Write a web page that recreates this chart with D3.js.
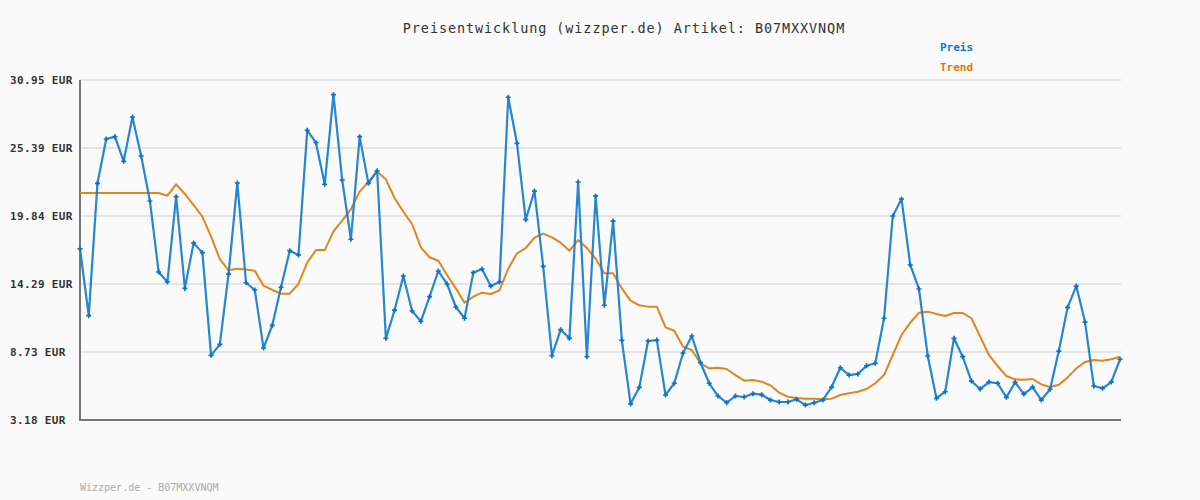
<!DOCTYPE html>
<html><head><meta charset="utf-8">
<script src="https://cdn.jsdelivr.net/npm/d3@7"></script>
<style>
html,body{margin:0;padding:0;background:#fafafa;}
svg{display:block;}
</style></head>
<body>
<svg id="chart" width="1200" height="500"></svg>
<script>
const title = "Preisentwicklung (wizzper.de) Artikel: B07MXXVNQM";
const footer = "Wizzper.de - B07MXXVNQM";
const seriesNames = ["Preis", "Trend"];
const yTicks = [3.18, 8.73, 14.29, 19.84, 25.39, 30.95];
const yTickLabels = ["3.18 EUR", "8.73 EUR", "14.29 EUR", "19.84 EUR", "25.39 EUR", "30.95 EUR"];

const preis = [
  17.15, 11.70, 22.51, 26.13, 26.32, 24.31, 27.93, 24.74, 21.07, 15.27,
  14.45, 21.42, 13.93, 17.64, 16.85, 8.46, 9.36, 15.10, 22.54, 14.39,
  13.80, 9.06, 10.91, 14.02, 17.01, 16.66, 26.84, 25.83, 22.43, 29.75,
  22.78, 17.94, 26.32, 22.51, 23.54, 9.85, 12.16, 14.94, 12.08, 11.24,
  13.25, 15.35, 14.29, 12.41, 11.49, 15.21, 15.51, 14.12, 14.45, 29.54,
  25.78, 19.54, 21.88, 15.73, 8.43, 10.56, 9.85, 22.62, 8.35, 21.48,
  12.55, 19.43, 9.69, 4.49, 5.85, 9.63, 9.71, 5.22, 6.18, 8.65,
  10.04, 7.86, 6.18, 5.14, 4.59, 5.14, 5.06, 5.33, 5.25, 4.81,
  4.65, 4.65, 4.87, 4.40, 4.59, 4.81, 5.87, 7.45, 6.85, 6.94,
  7.61, 7.81, 11.49, 19.84, 21.23, 15.84, 13.88, 8.41, 4.95, 5.49,
  9.85, 8.35, 6.36, 5.71, 6.28, 6.18, 5.03, 6.26, 5.30, 5.87,
  4.81, 5.69, 8.81, 12.38, 14.12, 11.18, 5.96, 5.77, 6.28, 8.14
];
const trend = [
  21.72, 21.72, 21.72, 21.72, 21.72, 21.72, 21.72, 21.72, 21.72, 21.72,
  21.50, 22.43, 21.64, 20.74, 19.79, 18.15, 16.31, 15.41, 15.54, 15.48,
  15.37, 14.15, 13.80, 13.50, 13.50, 14.31, 16.03, 17.06, 17.06, 18.59,
  19.46, 20.40, 21.83, 22.64, 23.46, 22.84, 21.29, 20.19, 19.19, 17.28,
  16.47, 16.19, 15.02, 13.93, 12.76, 13.25, 13.58, 13.47, 13.77, 15.54,
  16.79, 17.23, 18.07, 18.40, 18.10, 17.66, 17.01, 17.88, 17.23, 16.35,
  15.16, 15.16, 13.93, 12.93, 12.55, 12.44, 12.44, 10.75, 10.47, 9.17,
  8.90, 7.81, 7.40, 7.45, 7.35, 6.85, 6.39, 6.45, 6.31, 6.01,
  5.41, 5.08, 4.98, 4.92, 4.92, 4.87, 4.92, 5.22, 5.36, 5.49,
  5.71, 6.18, 6.85, 8.49, 10.12, 11.13, 11.94, 12.03, 11.84, 11.67,
  11.92, 11.92, 11.49, 9.99, 8.49, 7.59, 6.77, 6.50, 6.47, 6.53,
  6.09, 5.87, 6.06, 6.66, 7.40, 7.92, 8.08, 8.02, 8.14, 8.35
];

const colors = {preis: "#1a7fcf", trend: "#e4841c", legendPreis: "#1177c2", legendTrend: "#e07a00"};
const svg = d3.select("#chart");
const plotLeft = 80, plotRight = 1120, plotTop = 80, plotBottom = 420;

const x = d3.scaleLinear().domain([0, preis.length - 1]).range([plotLeft, plotRight]);
const y = d3.scaleLinear().domain([3.18, 30.95]).range([plotBottom, plotTop]);

svg.append("rect").attr("width", 1200).attr("height", 500).attr("fill", "#fafafa");

// grid
svg.append("g").selectAll("line").data(yTicks.slice(1)).join("line")
  .attr("x1", plotLeft).attr("x2", plotRight + 1)
  .attr("y1", d => y(d)).attr("y2", d => y(d))
  .attr("stroke", "#e4e4e4").attr("stroke-width", 2);

// y labels
svg.append("g").selectAll("text").data(yTicks).join("text")
  .attr("x", 10).attr("y", d => y(d) + 4)
  .attr("font-family", "DejaVu Sans Mono").attr("font-weight", "bold")
  .attr("font-size", 11).attr("letter-spacing", 0.35).attr("fill", "#333")
  .text((d, i) => yTickLabels[i]);

// axes
svg.append("line").attr("x1", plotLeft).attr("x2", plotLeft).attr("y1", plotTop).attr("y2", plotBottom + 1)
  .attr("stroke", "#777").attr("stroke-width", 2);
svg.append("line").attr("x1", plotLeft - 1).attr("x2", plotRight + 1).attr("y1", plotBottom).attr("y2", plotBottom)
  .attr("stroke", "#777").attr("stroke-width", 2);

const line = d3.line().x((d, i) => x(i)).y(d => y(d));
svg.append("path").datum(trend).attr("d", line)
  .attr("fill", "none").attr("stroke", colors.trend).attr("stroke-width", 2)
  .attr("stroke-linejoin", "round");

svg.append("path").datum(preis).attr("d", line)
  .attr("fill", "none").attr("stroke", colors.preis).attr("stroke-width", 2.2)
  .attr("stroke-linejoin", "round").attr("stroke-opacity", 0.95);

const cross = d3.symbol().type(d3.symbolCross).size(14);
svg.append("g").selectAll("path").data(preis).join("path")
  .attr("d", cross)
  .attr("transform", (d, i) => `translate(${x(i)},${y(d)})`)
  .attr("fill", "#1072c0");

svg.append("text").attr("x", 624).attr("y", 33).attr("text-anchor", "middle")
  .attr("font-family", "DejaVu Sans Mono").attr("font-size", 13.5).attr("letter-spacing", 0.9)
  .attr("fill", "#333").text(title);

svg.append("text").attr("x", 940).attr("y", 51)
  .attr("font-family", "DejaVu Sans Mono").attr("font-weight", "bold").attr("font-size", 11)
  .attr("fill", colors.legendPreis).text(seriesNames[0]);
svg.append("text").attr("x", 940).attr("y", 71)
  .attr("font-family", "DejaVu Sans Mono").attr("font-weight", "bold").attr("font-size", 11)
  .attr("fill", colors.legendTrend).text(seriesNames[1]);

svg.append("text").attr("x", 80).attr("y", 491)
  .attr("font-family", "DejaVu Sans Mono").attr("font-size", 10)
  .attr("fill", "#aaa").text(footer);
</script>
</body></html>
